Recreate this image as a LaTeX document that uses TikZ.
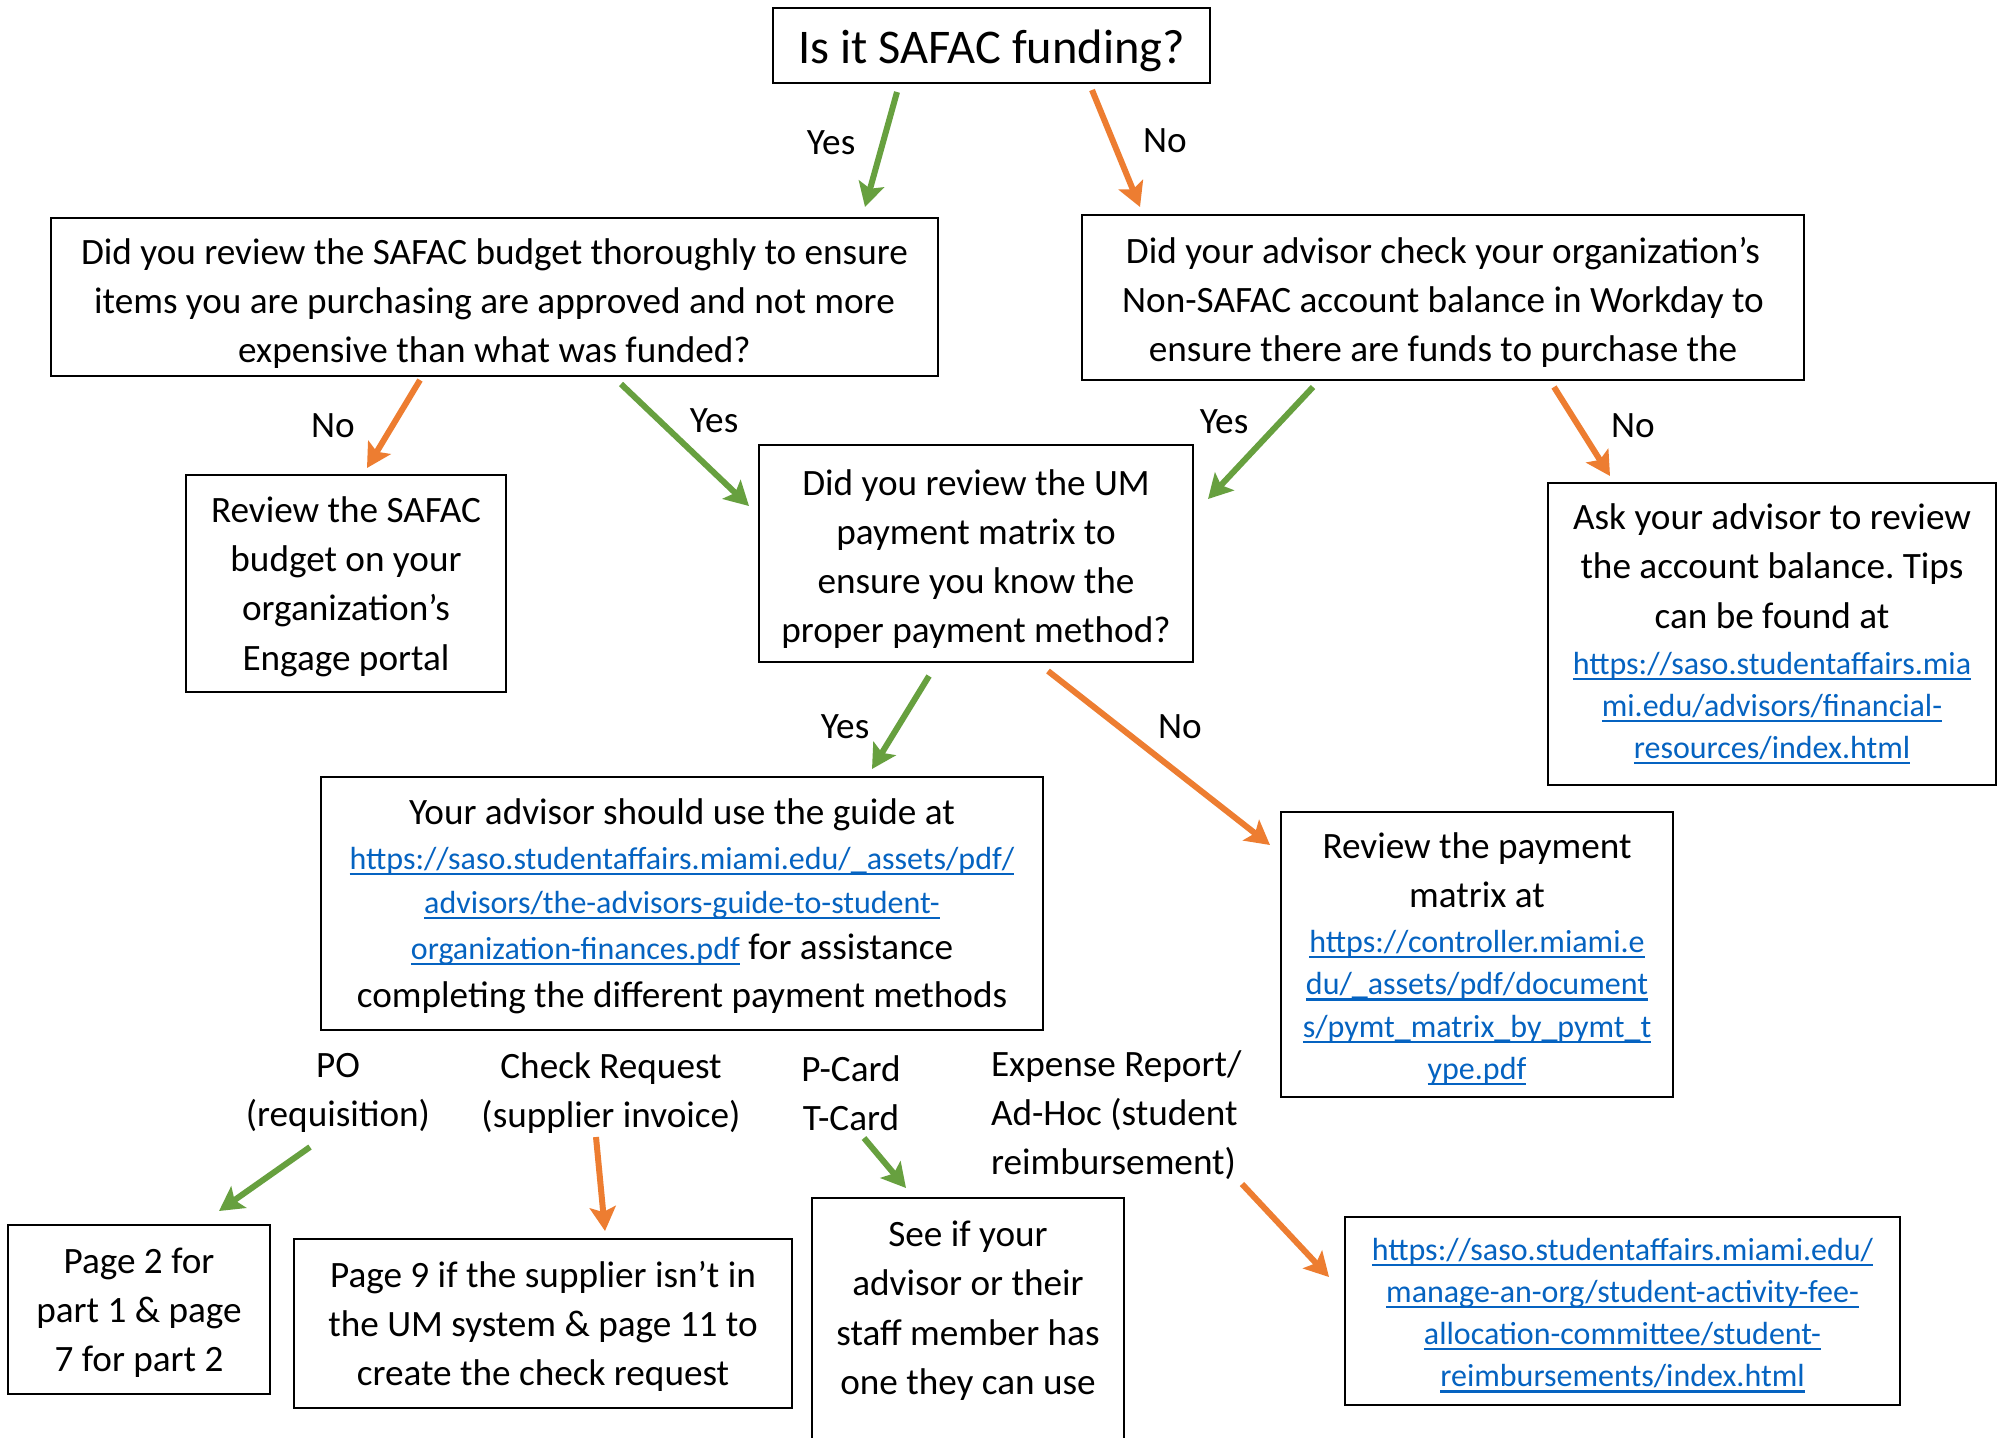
\documentclass[tikz,border=0pt]{standalone}
\usepackage{fontspec}
\setmainfont{Carlito}
\usetikzlibrary{arrows.meta,calc}
\definecolor{linkblue}{HTML}{0563C1}
\definecolor{agreen}{HTML}{67A03F}
\definecolor{aorange}{HTML}{ED7D31}
\newsavebox{\lnkbox}
\newcommand{\mainf}{\fontsize{18.6pt}{24.6pt}\selectfont}
\newcommand{\linkf}{\fontsize{16pt}{21.1pt}\selectfont}
\newcommand{\titlef}{\fontsize{24.2pt}{28pt}\selectfont}
\newcommand{\toppad}[1]{\rule{0pt}{#1}}
\newcommand{\lnk}[1]{\leavevmode{\linkf\color{linkblue}\sbox{\lnkbox}{#1}\rlap{\rule[-2.9pt]{\wd\lnkbox}{1.1pt}}\usebox{\lnkbox}}}
\tikzset{
  box/.style={draw, line width=1pt, inner sep=0pt, outer sep=0pt, align=flush center, font=\mainf},
  lbl/.style={inner sep=0pt, outer sep=0pt, font=\mainf},
  yesarr/.style={draw=agreen, line width=3pt, -{Stealth[length=12pt,width=13pt,inset=2.5pt]}},
  noarr/.style={draw=aorange, line width=3pt, -{Stealth[length=12pt,width=13pt,inset=2.5pt]}},
}
\begin{document}
\frenchspacing
\begin{tikzpicture}[x=0.5pt,y=-0.5pt]
\path[use as bounding box] (0,0) rectangle (2007,1437);
\clip (0,0) rectangle (2007,1437);
\fill[white] (0,0) rectangle (2007,1437);

% boxes
\node[box, font=\titlef, minimum width=218.5pt, minimum height=37.5pt] (T) at (991.5,45.5) {\toppad{22.4pt}Is it SAFAC funding?};
\node[box, minimum width=443.5pt, minimum height=79pt, text width=443.5pt] (A) at (494.5,297)
  {\toppad{19.5pt}Did you review the SAFAC budget thoroughly to ensure\\ items you are purchasing are approved and not more\\ expensive than what was funded?};
\node[box, minimum width=361pt, minimum height=82.5pt, text width=361pt] (B) at (1443,297.5)
  {\toppad{17.7pt}Did your advisor check your organization’s\\ Non-SAFAC account balance in Workday to\\ ensure there are funds to purchase the};
\node[box, minimum width=160pt, minimum height=108.5pt, text width=160pt] (C) at (346,583.5)
  {\toppad{15.9pt}Review the SAFAC\\ budget on your\\ organization’s\\ Engage portal};
\node[box, minimum width=217pt, minimum height=108.5pt, text width=217pt] (D) at (976,553.5)
  {\toppad{18.3pt}Did you review the UM\\ payment matrix to\\ ensure you know the\\ proper payment method?};
\node[box, minimum width=224pt, minimum height=151pt, text width=224pt] (E) at (1772,634)
  {Ask your advisor to review\\ the account balance. Tips\\ can be found at\\[-1.6pt]
   \lnk{https://saso.studentaffairs.mia}\\[-3.5pt]
   \lnk{mi.edu/advisors/financial-}\\[-3.5pt]
   \lnk{resources/index.html}};
\node[box, minimum width=361pt, minimum height=126.5pt, text width=361pt] (F) at (682,903.5)
  {\toppad{15.9pt}Your advisor should use the guide at\\[-2.2pt]
   \lnk{https://saso.studentaffairs.miami.edu/\_assets/pdf/}\\[-2.8pt]
   \lnk{advisors/the-advisors-guide-to-student-}\\[-1.6pt]
   \lnk{organization-finances.pdf} for assistance\\[-0.3pt]
   completing the different payment methods};
\node[box, minimum width=196pt, minimum height=142.5pt, text width=196pt] (G) at (1477,954.5)
  {\toppad{17.3pt}Review the payment\\ matrix at\\[-2.2pt]
   \lnk{https://controller.miami.e}\\[-3.5pt]
   \lnk{du/\_assets/pdf/document}\\[-3.5pt]
   \lnk{s/pymt\_matrix\_by\_pymt\_t}\\[-3.5pt]
   \lnk{ype.pdf}};
\node[box, minimum width=131pt, minimum height=84.5pt, text width=131pt] (H) at (139,1309.5)
  {\toppad{15.9pt}Page 2 for\\ part 1 \& page\\ 7 for part 2};
\node[box, minimum width=249pt, minimum height=84.5pt, text width=249pt] (I) at (543,1323.5)
  {\toppad{15.9pt}Page 9 if the supplier isn’t in\\ the UM system \& page 11 to\\ create the check request};
\node[box, line width=0.8pt, anchor=north, minimum width=156pt, text width=156pt, inner ysep=11.5pt, text depth=200pt] (J) at (968,1198)
  {See if your\\ advisor or their\\ staff member has\\ one they can use};
\node[box, font=\linkf, minimum width=277.5pt, minimum height=94pt, text width=277.5pt] (K) at (1622.5,1311)
  {\toppad{15.4pt}\lnk{https://saso.studentaffairs.miami.edu/}\\
   \lnk{manage-an-org/student-activity-fee-}\\
   \lnk{allocation-committee/student-}\\
   \lnk{reimbursements/index.html}};

% labels
\node[lbl] (yT) at (831,143) {Yes};
\node[lbl] (nT) at (1165,141) {No};
\node[lbl] (nA) at (333,426) {No};
\node[lbl] (yA) at (714,421) {Yes};
\node[lbl] (yB) at (1224,422) {Yes};
\node[lbl] (nB) at (1633,426) {No};
\node[lbl] (yD) at (845,727) {Yes};
\node[lbl] (nD) at (1180,727) {No};
\node[lbl, align=center] (po) at (338,1093) {PO\\(requisition)};
\node[lbl, align=center] (cr) at (611,1093) {Check Request\\(supplier invoice)};
\node[lbl, align=center] (pc) at (851,1093) {P-Card\\T-Card};
\node[lbl, align=left, anchor=west] (ex) at (991,1115) {Expense Report/\\Ad-Hoc (student\\reimbursement)};

% connectors
\draw[yesarr] ($(T.south)+(-94.5,9)$) -- ($(A.north)+(370.5,-11)$);
\draw[noarr]  ($(T.south)+(100.5,7)$) -- ($(B.north)+(-303,-8)$);
\draw[noarr]  ($(A.south)+(-74.5,4)$) -- ($(C.north)+(21,-7)$);
\draw[yesarr] ($(A.south)+(126.5,8)$) -- ($(D.west)+(-10,-47.5)$);
\draw[yesarr] ($(B.south)+(-130,7)$) -- ($(D.east)+(15,-54.5)$);
\draw[noarr]  ($(B.south)+(111,7)$) -- ($(E.north)+(-162,-7)$);
\draw[yesarr] ($(D.south)+(-47,14)$) -- ($(F.north)+(190,-8)$);
\draw[noarr]  ($(D.south)+(72,9)$) -- ($(G.west)+(-11,-109.5)$);
\draw[yesarr] ($(po.center)+(-28,54)$) -- ($(H.north)+(80,-14)$);
\draw[noarr]  ($(cr.center)+(-15,44)$) -- ($(I.north)+(62,-8)$);
\draw[yesarr] ($(pc.center)+(13,45)$) -- ($(J.north)+(-62,-10)$);
\draw[noarr]  ($(ex.west)+(251,69)$) -- ($(K.west)+(-16,-34)$);
\end{tikzpicture}
\end{document}
